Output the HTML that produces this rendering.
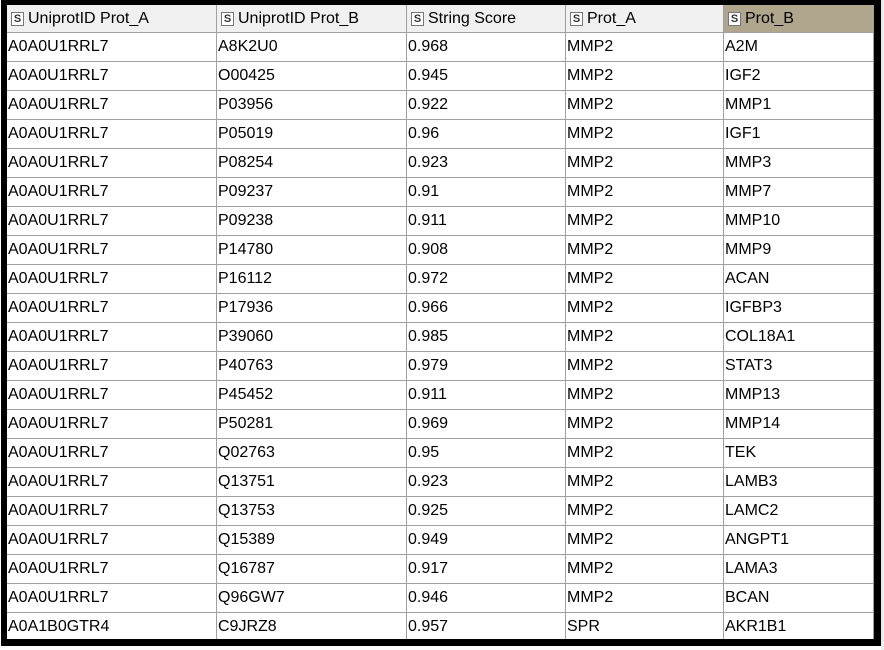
<!DOCTYPE html>
<html><head><meta charset="utf-8"><style>
body{margin:0;width:884px;height:650px;background:#fff;position:relative;overflow:hidden;font-family:"Liberation Sans","DejaVu Sans",sans-serif;}
#strip{position:absolute;left:881px;top:0;width:3px;height:650px;background:#ececec;}
#frame{position:absolute;left:1px;top:0;width:867px;height:634px;border-left:6px solid #000;border-top:5px solid #000;border-right:7px solid #000;border-bottom:7px solid #000;background:#fff;overflow:hidden;}
.cell{position:absolute;box-sizing:border-box;border-right:1px solid #a0a0a0;border-bottom:1px solid #a0a0a0;font-size:16px;line-height:28px;padding-left:1px;white-space:nowrap;color:#000;}
.hd{background:#f0f0f0;line-height:27px;padding-left:4px;}
.hd.sel{background:#b0a58d;}
.s{display:inline-block;width:11px;height:12px;border:1px solid #777;background:#fff;font-size:11px;line-height:12px;text-align:center;font-weight:bold;margin-right:4px;vertical-align:1px;color:#333;}
</style></head><body>
<div id="strip"></div>
<div id="frame"></div>
<script>
const cols=[0,210,400,559,717,867];
const heads=["UniprotID Prot_A","UniprotID Prot_B","String Score","Prot_A","Prot_B"];
const rows=[
["A0A0U1RRL7","A8K2U0","0.968","MMP2","A2M"],
["A0A0U1RRL7","O00425","0.945","MMP2","IGF2"],
["A0A0U1RRL7","P03956","0.922","MMP2","MMP1"],
["A0A0U1RRL7","P05019","0.96","MMP2","IGF1"],
["A0A0U1RRL7","P08254","0.923","MMP2","MMP3"],
["A0A0U1RRL7","P09237","0.91","MMP2","MMP7"],
["A0A0U1RRL7","P09238","0.911","MMP2","MMP10"],
["A0A0U1RRL7","P14780","0.908","MMP2","MMP9"],
["A0A0U1RRL7","P16112","0.972","MMP2","ACAN"],
["A0A0U1RRL7","P17936","0.966","MMP2","IGFBP3"],
["A0A0U1RRL7","P39060","0.985","MMP2","COL18A1"],
["A0A0U1RRL7","P40763","0.979","MMP2","STAT3"],
["A0A0U1RRL7","P45452","0.911","MMP2","MMP13"],
["A0A0U1RRL7","P50281","0.969","MMP2","MMP14"],
["A0A0U1RRL7","Q02763","0.95","MMP2","TEK"],
["A0A0U1RRL7","Q13751","0.923","MMP2","LAMB3"],
["A0A0U1RRL7","Q13753","0.925","MMP2","LAMC2"],
["A0A0U1RRL7","Q15389","0.949","MMP2","ANGPT1"],
["A0A0U1RRL7","Q16787","0.917","MMP2","LAMA3"],
["A0A0U1RRL7","Q96GW7","0.946","MMP2","BCAN"],
["A0A1B0GTR4","C9JRZ8","0.957","SPR","AKR1B1"]];
const f=document.getElementById('frame');
const names=["uniprot-a","uniprot-b","string-score","prot-a","prot-b"];
for(let c=0;c<5;c++){
  const d=document.createElement('div');
  d.className='cell hd'+(c==4?' sel':'');
  d.style.left=cols[c]+'px';d.style.top='0px';d.style.width=(cols[c+1]-cols[c])+'px';d.style.height='28px';
  d.innerHTML='<span class="s">S</span>'+heads[c];
  
  
  f.appendChild(d);
}
rows.forEach((r,i)=>{
  for(let c=0;c<5;c++){
    const d=document.createElement('div');
    d.className='cell';
    d.style.left=cols[c]+'px';d.style.top=(28+i*29)+'px';d.style.width=(cols[c+1]-cols[c])+'px';d.style.height='29px';
    d.textContent=r[c];
    
    
    f.appendChild(d);
  }
});
</script>
</body></html>
